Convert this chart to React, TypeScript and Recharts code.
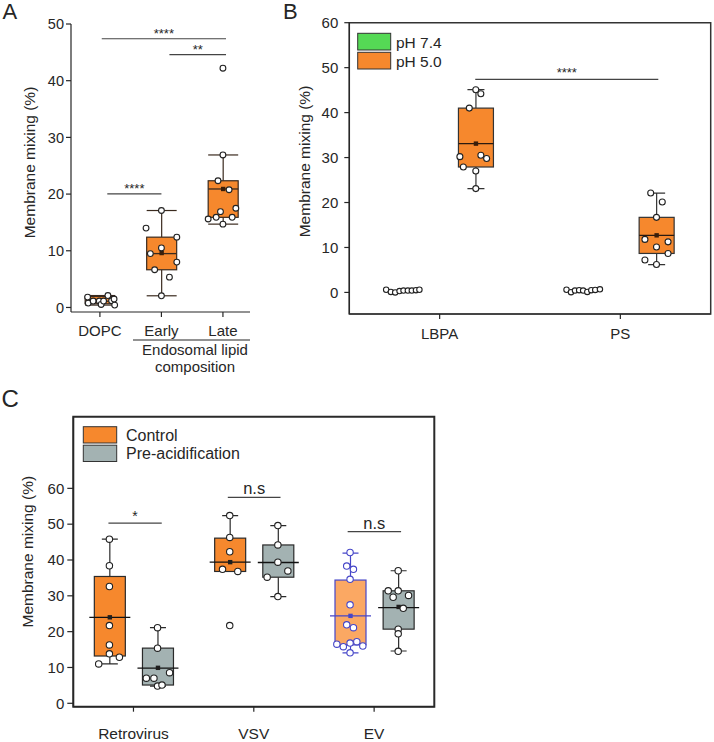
import React from 'react';
import { ComposedChart, Bar, Scatter, XAxis, YAxis, ReferenceLine, ReferenceArea } from 'recharts';

const FONT = '"Liberation Sans", Arial, Helvetica, sans-serif';
const INK = '#262626';
const ORANGE = '#f6882d';
const LIGHT_ORANGE = '#fba863';
const GREY = '#a3b2b2';
const GREEN = '#55d955';
const BLUE = '#4646c8';

// ---------- Panel A ----------
const groupsA = ['DOPC', 'Early', 'Late'];
const boxesA = [
  { g: 1, min: 0.42, q1: 0.65, median: 1.1, q3: 1.94, max: 2.1, mean: 1.2 },
  { g: 2, min: 2.06, q1: 6.65, median: 9.5, q3: 12.4, max: 17.1, mean: 9.6 },
  { g: 3, min: 14.7, q1: 15.9, median: 20.9, q3: 22.35, max: 26.9, mean: 20.9 },
];
const dopcY = [1.83, 0.77, 1.13, 1.13, 0.53, 1.13, 2.1, 1.18, 1.48, 0.42];
const dopcDx = [-0.2, -0.19, -0.11, -0.01, 0.02, 0.06, 0.13, 0.19, 0.23, 0.24];
const earlyY = [14.0, 9.5, 10.5, 2.06, 17.1, 6.65, 12.4, 8.0, 5.35];
const earlyDx = [-0.25, -0.18, 0, 0, 0, -0.11, 0.25, 0.25, 0.13];
const lateY = [42.2, 26.9, 22.35, 20.76, 16.9, 15.6, 15.9, 15.9, 17.5, 14.7];
const lateDx = [0, 0, -0.08, 0.1, -0.04, -0.24, -0.11, 0.15, 0.21, 0];
const sigA = [
  { x1: 1.03, x2: 3.05, y: 47.4, text: '****' },
  { x1: 2.13, x2: 3.05, y: 44.6, text: '**' },
  { x1: 1.12, x2: 2.0, y: 20.05, text: '****' },
];

// ---------- Panel B ----------
const groupsB = ['LBPA', 'PS'];
const seriesB = ['pH 7.4', 'pH 5.0'];
const boxesB = [
  { g: 1, s: 'pH 5.0', min: 23.1, q1: 27.9, median: 33.1, q3: 41.0, max: 45.1, mean: 33.1 },
  { g: 2, s: 'pH 5.0', min: 6.2, q1: 8.67, median: 12.67, q3: 16.7, max: 22.1, mean: 12.7 },
];
const lbpa74Y = [0.6, 0.1, 0.0, 0.3, 0.4, 0.4, 0.4, 0.5, 0.6];
const lbpa74Dx = [-0.096, -0.07, -0.046, -0.022, 0, 0.024, 0.046, 0.069, 0.088];
const ps74Y = [0.6, 0.05, 0.4, 0.5, 0.4, 0.1, 0.5, 0.55, 0.7];
const ps74Dx = [-0.098, -0.073, -0.051, -0.028, -0.006, 0.017, 0.039, 0.061, 0.087];
const lbpa50Y = [45.1, 44.2, 41.0, 30.2, 30.5, 29.8, 27.9, 27.0, 23.1];
const lbpa50Dx = [0, 0.028, -0.036, -0.088, 0.028, 0.06, -0.069, 0, 0];
const ps50Y = [22.1, 20.1, 16.7, 11.8, 11.25, 10.1, 8.67, 7.2, 6.2];
const ps50Dx = [-0.032, 0.032, 0, -0.064, 0.064, 0, 0.064, -0.064, 0];
const sigB = [{ x1: 1.197, x2: 2.21, y: 47.4, text: '****' }];

// ---------- Panel C ----------
const groupsC = ['Retrovirus', 'VSV', 'EV'];
const seriesC = ['Control', 'Pre-acidification'];
const boxesC = [
  { g: 1, s: 'Control', min: 11.0, q1: 13.2, median: 24.0, q3: 35.4, max: 45.8, mean: 24.0 },
  { g: 1, s: 'Pre-acidification', min: 4.8, q1: 5.1, median: 9.8, q3: 15.4, max: 21.1, mean: 9.9 },
  { g: 2, s: 'Control', min: 36.8, q1: 36.8, median: 39.4, q3: 46.1, max: 52.4, mean: 39.4 },
  { g: 2, s: 'Pre-acidification', min: 29.8, q1: 35.2, median: 39.3, q3: 44.2, max: 49.6, mean: 39.4 },
  { g: 3, s: 'Control', min: 14.1, q1: 16.3, median: 24.4, q3: 34.4, max: 41.9, mean: 24.4 },
  { g: 3, s: 'Pre-acidification', min: 14.6, q1: 20.7, median: 26.7, q3: 31.4, max: 37.0, mean: 26.9 },
];
const pointsC = [
  { g: 1, s: 'Control', y: [45.8, 38.4, 32.6, 21.7, 16.3, 13.8, 12.85, 11.0], dx: [0, 0, 0, 0, 0, 0, 0.083, -0.089] },
  { g: 1, s: 'Pre-acidification', y: [21.1, 15.4, 7.0, 7.0, 8.55, 4.8, 5.1], dx: [0, 0, -0.093, -0.03, 0.1, 0, 0.037] },
  { g: 2, s: 'Control', y: [52.4, 46.3, 42.3, 37.4, 36.8, 21.7], dx: [0, 0, 0, -0.06, 0.067, 0] },
  { g: 2, s: 'Pre-acidification', y: [49.6, 44.2, 39.4, 35.2, 36.95, 29.8], dx: [0, 0, 0, -0.089, 0.083, 0] },
  { g: 3, s: 'Control', y: [42.1, 38.3, 37.4, 34.6, 27.5, 21.9, 21.1, 16.5, 15.8, 16.8, 17.2, 16.0, 14.1], dx: [0, -0.028, 0.028, 0, 0, -0.028, 0.028, -0.11, -0.056, 0, 0.056, 0.106, 0] },
  { g: 3, s: 'Pre-acidification', y: [37.0, 31.4, 31.4, 29.6, 30.1, 26.5, 20.7, 19.4, 14.5], dx: [0, -0.083, 0, -0.042, 0.086, 0.042, 0, 0, 0] },
];
const sigC = [
  { x1: 0.792, x2: 1.235, y: 50.3, text: '*' },
  { x1: 1.784, x2: 2.222, y: 57.5, text: 'n.s' },
  { x1: 2.78, x2: 3.224, y: 47.9, text: 'n.s' },
];

// layout helpers
const offB: Record<string, number> = { 'pH 7.4': -0.2, 'pH 5.0': 0.2 };
const offC: Record<string, number> = { Control: -0.2, 'Pre-acidification': 0.2 };

const toPts = (g: number, ys: number[], dxs: number[], tag = '') =>
  ys.map((y, i) => ({ x: g + dxs[i], y, tag }));

const tableA = boxesA.map((b) => ({ ...b, x: b.g }));
const ptsA = [...toPts(1, dopcY, dopcDx), ...toPts(2, earlyY, earlyDx), ...toPts(3, lateY, lateDx)];

const tableB = boxesB.map((b) => ({ ...b, x: b.g + offB[b.s] }));
const ptsB74 = [
  ...toPts(1 + offB['pH 7.4'], lbpa74Y, lbpa74Dx),
  ...toPts(2 + offB['pH 7.4'], ps74Y, ps74Dx),
];
const ptsB50 = [
  ...toPts(1 + offB['pH 5.0'], lbpa50Y, lbpa50Dx),
  ...toPts(2 + offB['pH 5.0'], ps50Y, ps50Dx),
];

const tableC = boxesC.map((b) => ({ ...b, x: b.g + offC[b.s] }));
const ptsC = pointsC.flatMap((p) => toPts(p.g + offC[p.s], p.y, p.dx, `${p.g}-${p.s}`));

type Look = { fill: string; stroke: string; cap?: number; ext: number; mean: string; median: string };

const boxShape = (look: (p: any) => Look) => (props: any) => {
  const { x, y, width, height, payload } = props;
  if (!payload || !Number.isFinite(y) || !Number.isFinite(height)) return <g />;
  const lk = look(payload);
  const top = Math.min(y, y + height);
  const bottom = Math.max(y, y + height);
  const k = (bottom - top) / (payload.q3 - payload.q1);
  const py = (v: number) => top + (payload.q3 - v) * k;
  const cx = x + width / 2;
  const cw = (lk.cap ?? width) / 2;
  const yMax = py(payload.max);
  const yMin = py(payload.min);
  const yMed = py(payload.median);
  const yMean = py(payload.mean);
  return (
    <g>
      {payload.max > payload.q3 && (
        <g stroke={lk.stroke} strokeWidth={1.2}>
          <line x1={cx} x2={cx} y1={yMax} y2={top} />
          <line x1={cx - cw} x2={cx + cw} y1={yMax} y2={yMax} />
        </g>
      )}
      {payload.min < payload.q1 && (
        <g stroke={lk.stroke} strokeWidth={1.2}>
          <line x1={cx} x2={cx} y1={bottom} y2={yMin} />
          <line x1={cx - cw} x2={cx + cw} y1={yMin} y2={yMin} />
        </g>
      )}
      <rect x={x} y={top} width={width} height={bottom - top} fill={lk.fill} stroke={lk.stroke} strokeWidth={1.2} />
      <line x1={x - lk.ext} x2={x + width + lk.ext} y1={yMed} y2={yMed} stroke={lk.median} strokeWidth={1.3} />
      <rect x={cx - 2.2} y={yMean - 2.2} width={4.4} height={4.4} fill={lk.mean} />
    </g>
  );
};

const dot = (r: number, color: (p: any) => string) => (p: any) => (
  <circle cx={p.cx} cy={p.cy} r={r} fill="#fff" stroke={color(p.payload || {})} strokeWidth={1.1} />
);

const axisLine = { stroke: INK, strokeWidth: 1.2 };

const sigLines = (list: { x1: number; x2: number; y: number; text: string }[], size: number, offset: number) =>
  list.map((s, i) => (
    <ReferenceLine
      key={i}
      segment={[{ x: s.x1, y: s.y }, { x: s.x2, y: s.y }]}
      stroke="#444"
      strokeWidth={1.2}
      label={{ value: s.text, position: 'top', offset, fontSize: size, fill: INK }}
    />
  ));

const domA: [number, number] = [0.53, 3.44];
const domB: [number, number] = [0.5, 2.5];
const domC: [number, number] = [0.5, 3.5];
const yDomA: [number, number] = [-0.8, 50];
const yDomB: [number, number] = [-4.8, 60];
const yDomC: [number, number] = [-0.95, 80];

function PanelA() {
  return (
    <ComposedChart width={260} height={345} data={tableA} margin={{ top: 24, right: 10, left: 21, bottom: 3 }}>
      <XAxis xAxisId="box" type="number" dataKey="x" domain={domA} allowDataOverflow hide />
      <XAxis
        type="number" dataKey="x" domain={domA} allowDataOverflow ticks={[1, 2, 3]} interval={0}
        tickFormatter={(v: number) => groupsA[Math.round(v) - 1]} height={30} tickSize={5} tickMargin={8}
        axisLine={axisLine} tickLine={axisLine} tick={{ fill: INK, fontSize: 15 }}
      />
      <YAxis
        type="number" dataKey="y" domain={yDomA} allowDataOverflow ticks={[0, 10, 20, 30, 40, 50]} interval={0}
        width={50} tickSize={5} tickMargin={2} axisLine={axisLine} tickLine={axisLine} tick={{ fill: INK, fontSize: 14.5 }}
      />
      <Bar
        xAxisId="box" dataKey={(d: any) => [d.q1, d.q3]} barSize={30} isAnimationActive={false}
        shape={boxShape(() => ({ fill: ORANGE, stroke: '#3a2a1e', ext: 0, mean: '#3a1e0a', median: '#3a2a1e' }))}
      />
      <Scatter data={ptsA} shape={dot(2.9, () => '#222')} isAnimationActive={false} />
      {sigLines(sigA, 13, 1)}
    </ComposedChart>
  );
}

function PanelB() {
  return (
    <ComposedChart width={424} height={350} data={tableB} margin={{ top: 22.7, right: 3.3, left: 9.3, bottom: 6 }}>
      <XAxis xAxisId="box" type="number" dataKey="x" domain={domB} allowDataOverflow hide />
      <XAxis
        type="number" dataKey="x" domain={domB} allowDataOverflow ticks={[1, 2]} interval={0}
        tickFormatter={(v: number) => groupsB[Math.round(v) - 1]} height={30} tickSize={5} tickMargin={9}
        axisLine={axisLine} tickLine={axisLine} tick={{ fill: INK, fontSize: 15 }}
      />
      <YAxis
        type="number" dataKey="y" domain={yDomB} allowDataOverflow ticks={[0, 10, 20, 30, 40, 50, 60]} interval={0}
        width={50} tickSize={5} tickMargin={6} axisLine={axisLine} tickLine={axisLine} tick={{ fill: INK, fontSize: 15 }}
      />
      <ReferenceArea x1={domB[0]} x2={domB[1]} y1={yDomB[0]} y2={yDomB[1]} fill="none" stroke="#333" strokeWidth={1.5} />
      <Bar
        xAxisId="box" dataKey={(d: any) => [d.q1, d.q3]} barSize={35} isAnimationActive={false}
        shape={boxShape(() => ({ fill: ORANGE, stroke: '#333', cap: 17, ext: 0, mean: '#3a1e0a', median: '#2a1a10' }))}
      />
      <Scatter name={seriesB[0]} data={ptsB74} shape={dot(2.7, () => '#222')} isAnimationActive={false} />
      <Scatter name={seriesB[1]} data={ptsB50} shape={dot(3, () => '#222')} isAnimationActive={false} />
      {sigLines(sigB, 13, 2)}
    </ComposedChart>
  );
}

function PanelC() {
  const look = (p: any): Look =>
    p.g === 3 && p.s === 'Control'
      ? { fill: LIGHT_ORANGE, stroke: BLUE, cap: 16, ext: 5, mean: BLUE, median: BLUE }
      : { fill: p.s === 'Control' ? ORANGE : GREY, stroke: '#2a2a2a', cap: 16, ext: 5, mean: '#1e1e1e', median: '#111' };
  return (
    <ComposedChart width={450} height={362} data={tableC} margin={{ top: 36.7, right: 15.7, left: 23.3, bottom: 0.3 }}>
      <XAxis xAxisId="box" type="number" dataKey="x" domain={domC} allowDataOverflow hide />
      <XAxis
        type="number" dataKey="x" domain={domC} allowDataOverflow ticks={[1, 2, 3]} interval={0}
        tickFormatter={(v: number) => groupsC[Math.round(v) - 1]} height={35} tickSize={5} tickMargin={16}
        axisLine={axisLine} tickLine={axisLine} tick={{ fill: INK, fontSize: 15.5 }}
      />
      <YAxis
        type="number" dataKey="y" domain={yDomC} allowDataOverflow ticks={[0, 10, 20, 30, 40, 50, 60]} interval={0}
        width={50} tickSize={6} tickMargin={3} axisLine={axisLine} tickLine={axisLine} tick={{ fill: INK, fontSize: 15 }}
      />
      <ReferenceArea x1={domC[0]} x2={domC[1]} y1={yDomC[0]} y2={yDomC[1]} fill="none" stroke="#2a2a2a" strokeWidth={2} />
      <Bar xAxisId="box" dataKey={(d: any) => [d.q1, d.q3]} barSize={31} isAnimationActive={false} shape={boxShape(look)} />
      <Scatter
        data={ptsC}
        shape={dot(3.2, (p) => (p.tag === '3-Control' ? BLUE : '#222'))}
        isAnimationActive={false}
      />
      {sigLines(sigC.filter((s) => s.text === '*'), 14, 2)}
      {sigLines(sigC.filter((s) => s.text !== '*'), 16.5, 3)}
    </ComposedChart>
  );
}

const legendB = [
  { label: seriesB[0], color: GREEN },
  { label: seriesB[1], color: ORANGE },
];
const legendC = [
  { label: seriesC[0], color: ORANGE },
  { label: seriesC[1], color: GREY },
];

export default function App() {
  const yLabel = 'Membrane mixing (%)';
  return (
    <div style={{ position: 'absolute', left: 0, top: 0, width: 714, height: 742, background: '#fff', fontFamily: FONT, color: INK }}>
      <div style={{ position: 'absolute', left: 0, top: 0 }}><PanelA /></div>
      <div style={{ position: 'absolute', left: 290, top: 0 }}><PanelB /></div>
      <div style={{ position: 'absolute', left: 0, top: 380 }}><PanelC /></div>
      <svg width={714} height={742} style={{ position: 'absolute', left: 0, top: 0, pointerEvents: 'none' }} fontFamily={FONT}>
        <text x={2.5} y={19} fontSize={22} fill={INK}>A</text>
        <text x={283} y={19.3} fontSize={22} fill={INK}>B</text>
        <text x={1.5} y={407} fontSize={24} fill={INK}>C</text>
        <text transform="translate(29,162.5) rotate(-90)" textAnchor="middle" dominantBaseline="central" fontSize={15.5} fill={INK}>{yLabel}</text>
        <text transform="translate(304,161.5) rotate(-90)" textAnchor="middle" dominantBaseline="central" fontSize={15.5} fill={INK}>{yLabel}</text>
        <text transform="translate(27,551.7) rotate(-90)" textAnchor="middle" dominantBaseline="central" fontSize={15.5} fill={INK}>{yLabel}</text>
        <line x1={133} x2={250} y1={340} y2={340} stroke={INK} strokeWidth={1.2} />
        <text x={195} y={355} textAnchor="middle" fontSize={15} fill={INK}>Endosomal lipid</text>
        <text x={195} y={372} textAnchor="middle" fontSize={15} fill={INK}>composition</text>
        {legendB.map((l, i) => (
          <g key={l.label}>
            <rect x={357.7} y={33.3 + i * 19} width={33} height={16.7} fill={l.color} stroke="#333" strokeWidth={1} />
            <text x={396} y={42 + i * 19} dominantBaseline="central" fontSize={15.5} fill={INK}>{l.label}</text>
          </g>
        ))}
        {legendC.map((l, i) => (
          <g key={l.label}>
            <rect x={83.3} y={426.7 + i * 18.5} width={33.4} height={16.3} fill={l.color} stroke="#333" strokeWidth={1} />
            <text x={126} y={435 + i * 18.5} dominantBaseline="central" fontSize={16} fill={INK}>{l.label}</text>
          </g>
        ))}
      </svg>
    </div>
  );
}
